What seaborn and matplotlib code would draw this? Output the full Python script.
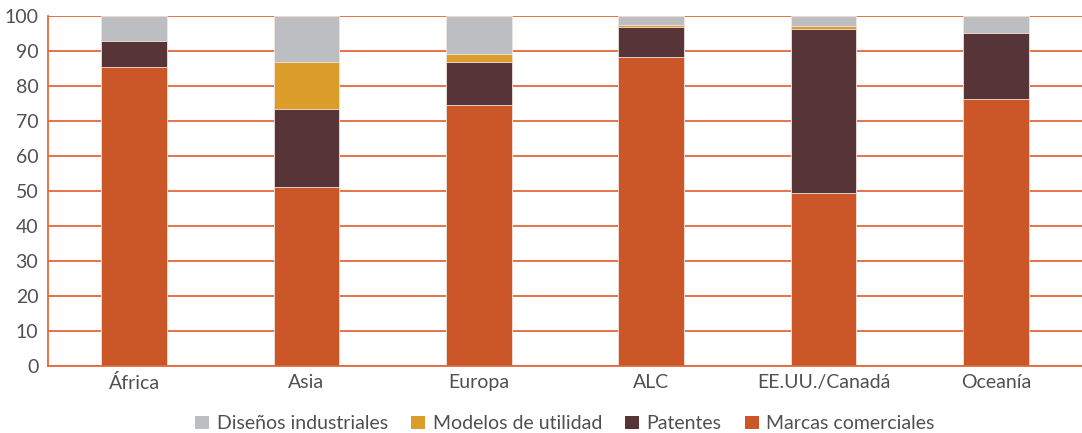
import numpy as np
import pandas as pd
import matplotlib
matplotlib.use("Agg")
import matplotlib.pyplot as plt
import seaborn as sns
from matplotlib.patches import Patch

categories = ["África", "Asia", "Europa", "ALC", "EE.UU./Canadá", "Oceanía"]
marcas = [85.3, 51.1, 74.7, 88.2, 49.4, 76.4]
patentes = [7.6, 22.3, 12.2, 8.7, 46.9, 18.7]
modelos = [0.0, 13.5, 2.3, 0.6, 0.7, 0.0]
disenos = [7.1, 13.1, 10.8, 2.5, 3.0, 4.9]

series_names = ["Marcas comerciales", "Patentes", "Modelos de utilidad", "Diseños industriales"]
colors = {"Marcas comerciales": "#CB5729", "Patentes": "#563438",
          "Modelos de utilidad": "#DB9E2A", "Diseños industriales": "#BDBEC1"}

df = pd.DataFrame({"region": categories, "Marcas comerciales": marcas, "Patentes": patentes,
                   "Modelos de utilidad": modelos, "Diseños industriales": disenos})

sns.set_theme(style="white")
plt.rcParams["font.family"] = ["Lato", "DejaVu Sans"]

fig = plt.figure(figsize=(10.82, 4.33), dpi=100)
ax = fig.add_axes([48 / 1082, (433 - 366) / 433, 1 - 48 / 1082, 350 / 433])

grid_c = "#E0693B"
for v in range(0, 101, 10):
    ax.axhline(v, color=grid_c, lw=1.3, zorder=0)

cum = df[series_names].cumsum(axis=1)
for name in reversed(series_names):
    sns.barplot(x=df["region"], y=cum[name], color=colors[name], width=0.38,
                saturation=1, ax=ax, zorder=2, edgecolor="#F2E4E0", linewidth=0.6)

ax.set_ylim(0, 100)
ax.set_xlim(-0.5, len(categories) - 0.5)
ax.set_yticks(range(0, 101, 10))
ax.set_xlabel("")
ax.set_ylabel("")

for s in ["top", "right"]:
    ax.spines[s].set_visible(False)
ax.spines["left"].set_color(grid_c)
ax.spines["left"].set_linewidth(1.3)
ax.spines["bottom"].set_color(grid_c)
ax.spines["bottom"].set_linewidth(1.3)

txt = "#505050"
ax.tick_params(axis="y", length=0, labelsize=14, labelcolor=txt, pad=7)
ax.tick_params(axis="x", which="major", length=0, labelsize=14, labelcolor=txt, pad=6)
ax.set_xticks(np.arange(-0.5, len(categories), 1.0), minor=True)
ax.tick_params(axis="x", which="minor", length=6, width=1.0, color="#A33A2A", direction="out")

handles = [Patch(facecolor=colors[n], edgecolor="none") for n in reversed(series_names)]
ax.legend(handles, list(reversed(series_names)), loc="center", bbox_to_anchor=(0.5, -0.165),
          ncol=4, frameon=False, fontsize=14, labelcolor=txt, handlelength=0.7, handleheight=0.7,
          handletextpad=0.4, columnspacing=1.2)

fig.savefig("out.png", dpi=100)
